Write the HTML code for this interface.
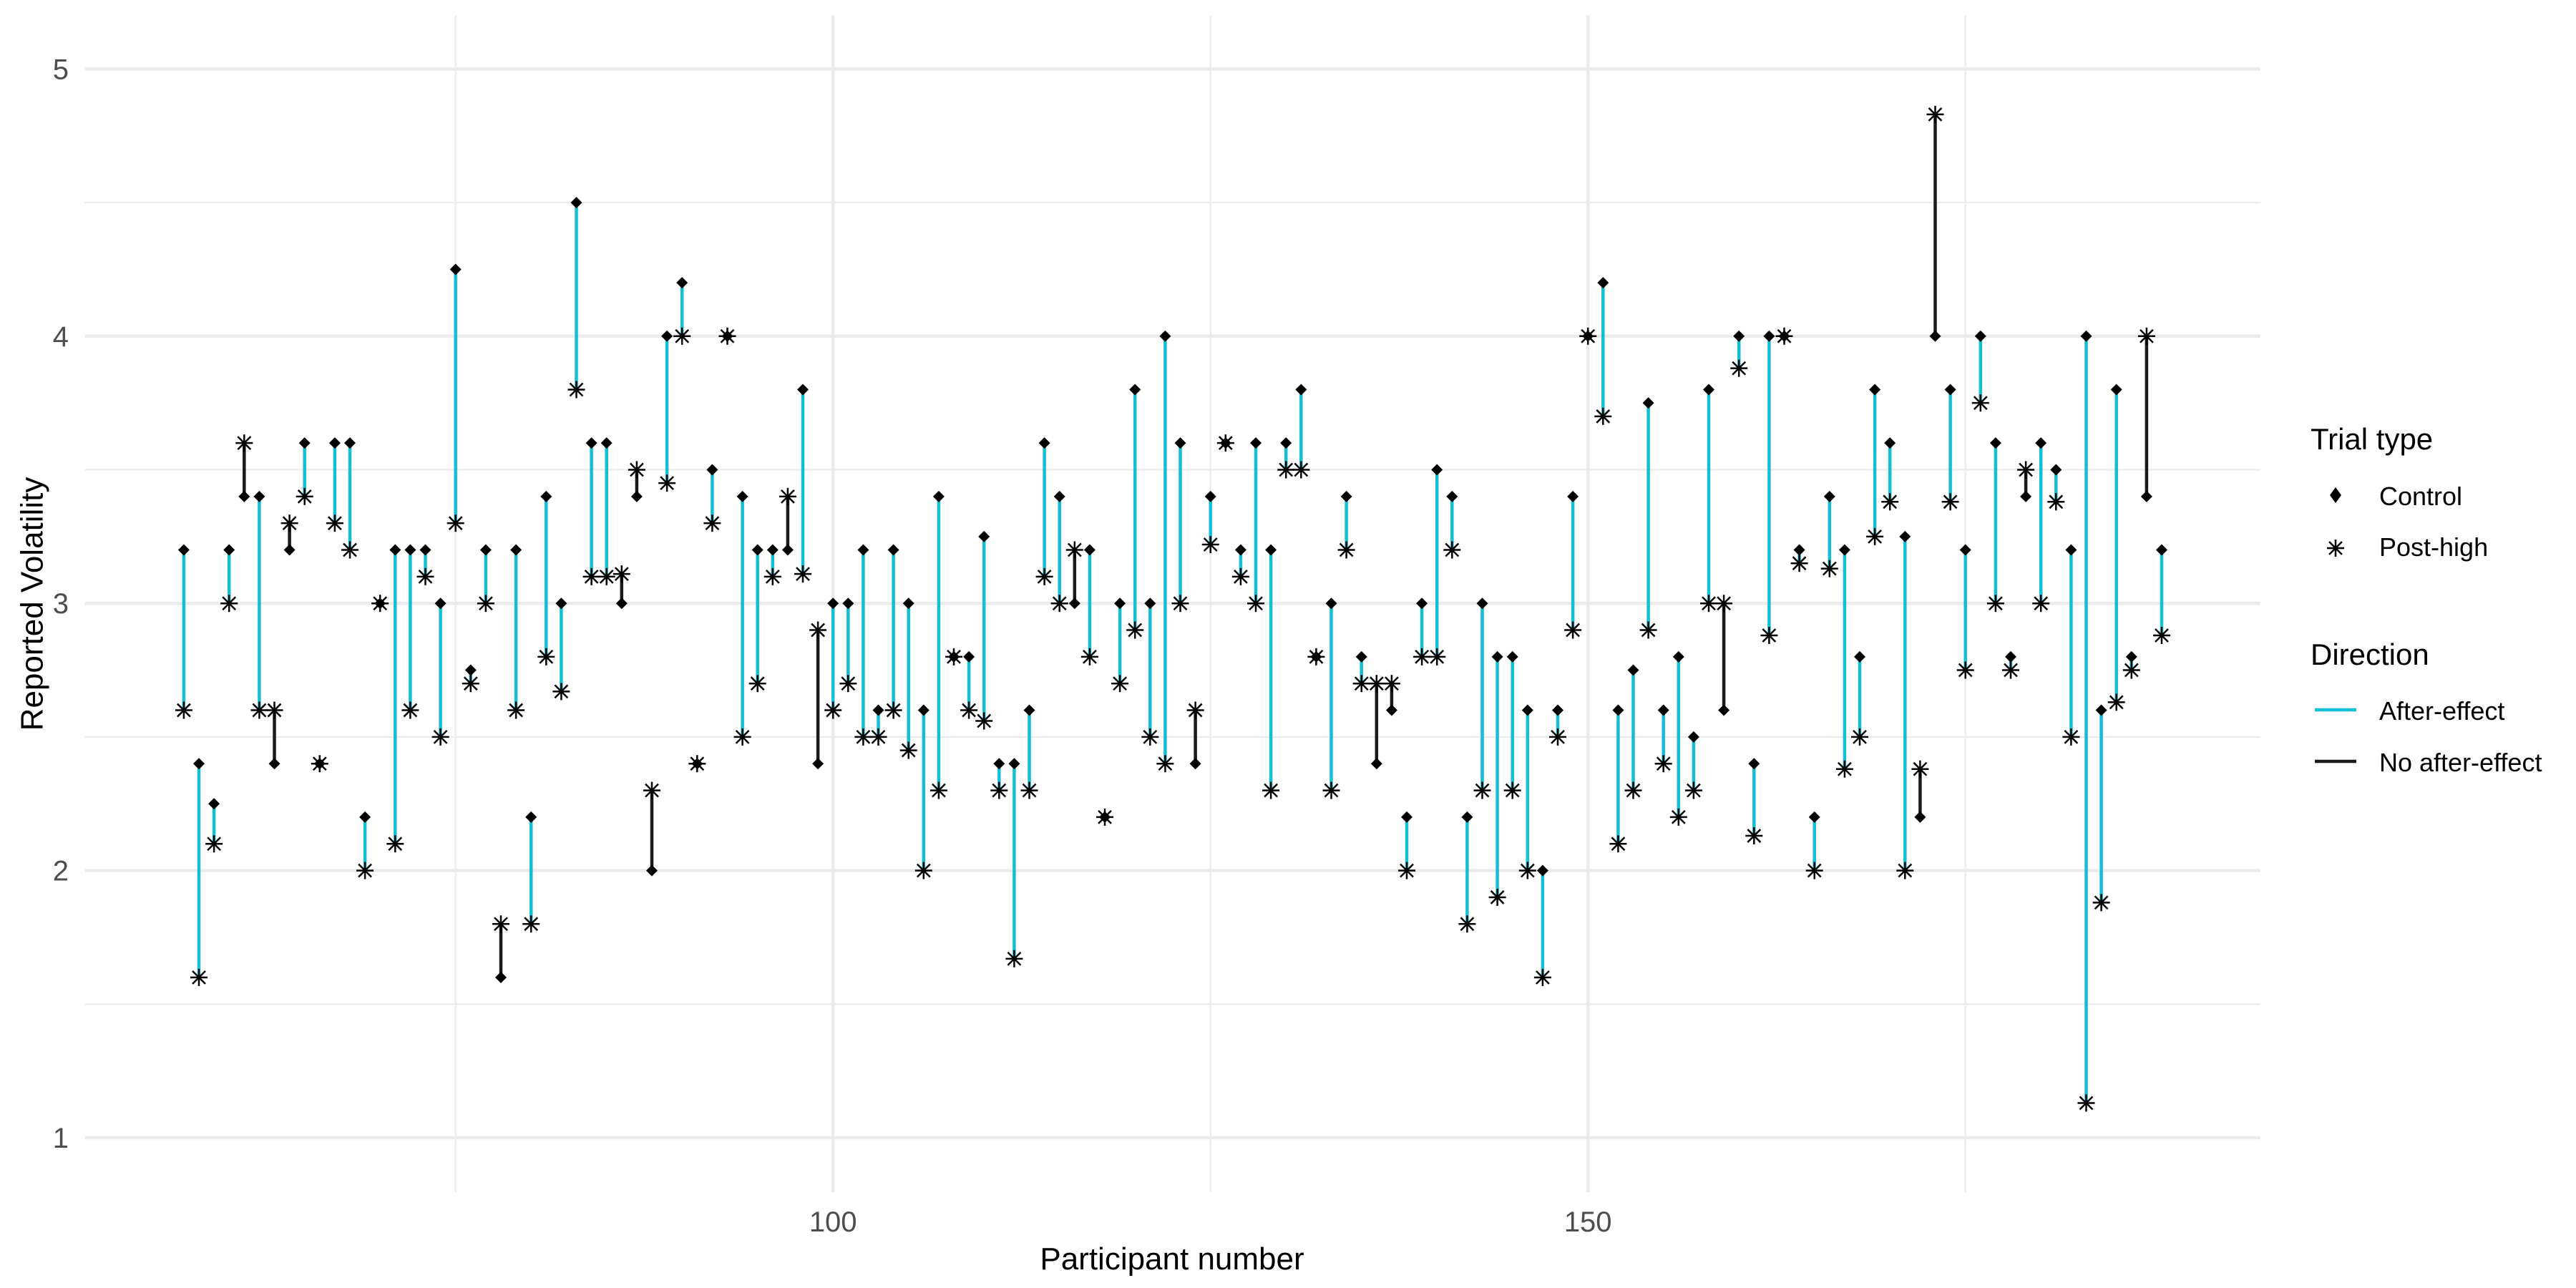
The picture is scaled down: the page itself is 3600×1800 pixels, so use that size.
<!DOCTYPE html>
<html><head><meta charset="utf-8"><style>
html,body{margin:0;padding:0;background:#fff;}
svg{display:block;font-family:"Liberation Sans",Arial,sans-serif;}
</style></head><body>
<svg id="chart" width="3600" height="1800" viewBox="0 0 3600 1800" xmlns="http://www.w3.org/2000/svg">
<rect x="0" y="0" width="3600" height="1800" fill="#fff"/>
<g id="grid"></g>
<g id="segs"></g>
<g id="pts"></g>
<g id="axes"></g>
<text x="45" y="844" transform="rotate(-90 45 844)" text-anchor="middle" dominant-baseline="central" font-size="44" fill="#000">Reported Volatility</text>
<text x="1638" y="1774" text-anchor="middle" font-size="44" fill="#000">Participant number</text>
<g>
<text x="3229" y="628" font-size="42" fill="#000">Trial type</text>
<path d="M3264 681 L3272 692 L3264 703 L3256 692 Z" fill="#000"/>
<text x="3325" y="706" font-size="36" fill="#000">Control</text>
<g stroke="#000" stroke-width="2.5">
<line x1="3252" y1="766" x2="3276" y2="766"/><line x1="3264" y1="754" x2="3264" y2="778"/>
<line x1="3255" y1="757" x2="3273" y2="775"/><line x1="3255" y1="775" x2="3273" y2="757"/></g>
<text x="3325" y="777" font-size="36" fill="#000">Post-high</text>
<text x="3229" y="929" font-size="42" fill="#000">Direction</text>
<line x1="3235" y1="992" x2="3293" y2="992" stroke="#12BFD5" stroke-width="4.5"/>
<text x="3325" y="1006" font-size="36" fill="#000">After-effect</text>
<line x1="3235" y1="1064" x2="3293" y2="1064" stroke="#1a1a1a" stroke-width="4.5"/>
<text x="3325" y="1078" font-size="36" fill="#000">No after-effect</text>
</g>
</svg>
<script>
const participants = [];
for (let p = 57; p <= 188; p++) participants.push(p);
const controlValues = [3.2,2.4,2.25,3.2,3.4,3.4,2.4,3.2,3.6,2.4,3.6,3.6,2.2,3.0,3.2,3.2,3.2,3.0,4.25,2.75,3.2,1.6,3.2,2.2,3.4,3.0,4.5,3.6,3.6,3.0,3.4,2.0,
4.0,4.2,2.4,3.5,4.0,3.4,3.2,3.2,3.2,3.8,2.4,3.0,3.0,3.2,2.6,3.2,3.0,2.6,3.4,2.8,2.8,3.25,2.4,2.4,2.6,3.6,3.4,3.0,3.2,2.2,3.0,3.8,3.0,4.0,3.6,
2.4,3.4,3.6,3.2,3.6,3.2,3.6,3.8,2.8,3.0,3.4,2.8,2.4,2.6,2.2,3.0,3.5,3.4,2.2,3.0,2.8,2.8,2.6,2.0,2.6,3.4,4.0,4.2,2.6,2.75,3.75,2.6,2.8,
2.5,3.8,2.6,4.0,2.4,4.0,4.0,3.2,2.2,3.4,3.2,2.8,3.8,3.6,3.25,2.2,4.0,3.8,3.2,4.0,3.6,2.8,3.4,3.6,3.5,3.2,4.0,2.6,3.8,2.8,3.4,3.2];
const postHighValues = [2.6,1.6,2.1,3.0,3.6,2.6,2.6,3.3,3.4,2.4,3.3,3.2,2.0,3.0,2.1,2.6,3.1,2.5,3.3,2.7,3.0,1.8,2.6,1.8,2.8,2.67,3.8,3.1,3.1,3.11,3.5,2.3,
3.45,4.0,2.4,3.3,4.0,2.5,2.7,3.1,3.4,3.11,2.9,2.6,2.7,2.5,2.5,2.6,2.45,2.0,2.3,2.8,2.6,2.56,2.3,1.67,2.3,3.1,3.0,3.2,2.8,2.2,2.7,2.9,2.5,2.4,3.0,
2.6,3.22,3.6,3.1,3.0,2.3,3.5,3.5,2.8,2.3,3.2,2.7,2.7,2.7,2.0,2.8,2.8,3.2,1.8,2.3,1.9,2.3,2.0,1.6,2.5,2.9,4.0,3.7,2.1,2.3,2.9,2.4,2.2,
2.3,3.0,3.0,3.88,2.13,2.88,4.0,3.15,2.0,3.13,2.38,2.5,3.25,3.38,2.0,2.38,4.83,3.38,2.75,3.75,3.0,2.75,3.5,3.0,3.38,2.5,1.13,1.88,2.63,2.75,4.0,2.88];
const yTicks = [1,2,3,4,5];
const yMinor = [1.5,2.5,3.5,4.5];
const xTicks = [100,150];
const xMinor = [75,125,175];

const NS = "http://www.w3.org/2000/svg";
const PL = 118.7, PR = 3159, PT = 21.7, PB = 1666;
function xs(v){ return 1164.2 + (v - 100) * 21.1; }
function ys(v){ return 96.4 + (5 - v) * 373.4; }
function mk(tag, attrs, parent){
  const e = document.createElementNS(NS, tag);
  for (const k in attrs) e.setAttribute(k, attrs[k]);
  parent.appendChild(e); return e;
}
const grid = document.getElementById('grid');
yMinor.forEach(v => {
  const l = mk('line', {x1:PL, x2:PR, y1:ys(v), y2:ys(v), stroke:'#ebebeb', 'stroke-width':2.3}, grid);
  
  
});
xMinor.forEach(v => {
  const l = mk('line', {x1:xs(v), x2:xs(v), y1:PT, y2:PB, stroke:'#ebebeb', 'stroke-width':2.3}, grid);
  
  
});
yTicks.forEach(v => {
  const l = mk('line', {x1:PL, x2:PR, y1:ys(v), y2:ys(v), stroke:'#ebebeb', 'stroke-width':4.5}, grid);
  
  
});
xTicks.forEach(v => {
  const l = mk('line', {x1:xs(v), x2:xs(v), y1:PT, y2:PB, stroke:'#ebebeb', 'stroke-width':4.5}, grid);
  
  
});
const axes = document.getElementById('axes');
yTicks.forEach(v => {
  const t = mk('text', {x:96, y:ys(v)+14, 'text-anchor':'end', 'font-size':40, fill:'#4d4d4d'}, axes);
  t.textContent = v;
  
  
});
xTicks.forEach(v => {
  const t = mk('text', {x:xs(v), y:1721, 'text-anchor':'middle', 'font-size':40, fill:'#4d4d4d'}, axes);
  t.textContent = v;
  
  
});
const segs = document.getElementById('segs');
const pts = document.getElementById('pts');
participants.forEach((p, i) => {
  const c = controlValues[i], h = postHighValues[i];
  const x = xs(p), yc = ys(c), yh = ys(h);
  const col = h < c ? '#12BFD5' : '#1a1a1a';
  const s = mk('line', {x1:x, x2:x, y1:yc, y2:yh, stroke:col, 'stroke-width':4.5}, segs);
  
  
  const g = mk('g', {stroke:'#000', 'stroke-width':2.5}, pts);
  
  
  mk('line', {x1:x-12, x2:x+12, y1:yh, y2:yh}, g);
  mk('line', {x1:x, x2:x, y1:yh-12, y2:yh+12}, g);
  mk('line', {x1:x-9, x2:x+9, y1:yh-9, y2:yh+9}, g);
  mk('line', {x1:x-9, x2:x+9, y1:yh+9, y2:yh-9}, g);
  const d = mk('path', {d:`M${x} ${yc-8} L${x+8} ${yc} L${x} ${yc+8} L${x-8} ${yc} Z`, fill:'#000'}, pts);
  
  
});
</script>
</body></html>
